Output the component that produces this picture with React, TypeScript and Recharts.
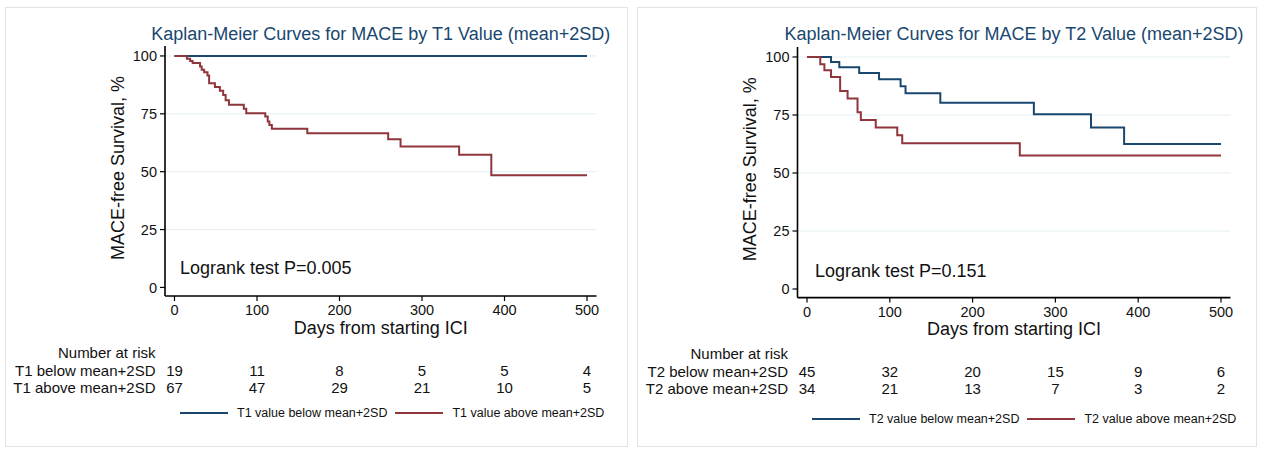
import React from "react";
import { LineChart, Line, XAxis, YAxis, CartesianGrid, Legend } from "recharts";

const FONT = "'Liberation Sans', Arial, Helvetica, sans-serif";
const BLUE = "#1a476f";
const RED = "#90353b";
const INK = "#111";

const dayTicks = [0, 100, 200, 300, 400, 500];
const survTicks = [0, 25, 50, 75, 100];

// T1 panel: Kaplan-Meier steps (day, % MACE-free)
const t1BelowDays = [0, 500];
const t1BelowSurv = [100, 100];
const t1AboveDays = [0, 15, 19, 22, 31, 33, 36, 40, 42, 49, 55, 59, 62, 66, 84, 87, 110, 113, 115, 118, 161, 259, 274, 345, 384, 500];
const t1AboveSurv = [100, 98.8, 97.8, 97.0, 95.4, 94.0, 93.0, 91.6, 88.2, 86.6, 85.0, 83.1, 80.9, 78.9, 77.2, 75.3, 73.8, 71.7, 70.2, 68.5, 66.6, 64.0, 60.9, 57.3, 48.5, 48.5];
const t1RiskBelow = [19, 11, 8, 5, 5, 4];
const t1RiskAbove = [67, 47, 29, 21, 10, 5];

// T2 panel
const t2BelowDays = [0, 29, 39, 63, 87, 113, 119, 161, 274, 343, 383, 500];
const t2BelowSurv = [100, 97.8, 95.6, 93.1, 90.4, 87.4, 84.4, 80.3, 75.3, 69.6, 62.5, 62.5];
const t2AboveDays = [0, 16, 21, 29, 40, 49, 61, 65, 83, 109, 115, 257, 500];
const t2AboveSurv = [100, 96.9, 94.3, 91.4, 85.3, 82.1, 76.2, 72.8, 69.6, 66.3, 62.8, 57.5, 57.5];
const t2RiskBelow = [45, 32, 20, 15, 9, 6];
const t2RiskAbove = [34, 21, 13, 7, 3, 2];

const toSteps = (days: number[], surv: number[]) => days.map((d, i) => ({ d, s: surv[i] }));

type Step = { d: number; s: number };

type PanelProps = {
  left: number;
  top: number;
  width: number;
  height: number;
  axisW: number;
  marginRight: number;
  marginTop: number;
  plotH: number;
  tag: string;
  logrank: string;
  logrankLeft: number;
  logrankTop: number;
  legendTop: number;
  below: Step[];
  above: Step[];
  riskBelow: number[];
  riskAbove: number[];
};

// keep "below" first, as in the original legend
const renderLegend = (props: any) => {
  const items = [...(props.payload || [])].sort(
    (a: any, b: any) => (String(a.value).includes("below") ? 0 : 1) - (String(b.value).includes("below") ? 0 : 1)
  );
  return (
    <div style={{ display: "flex", alignItems: "center", fontFamily: FONT, fontSize: 12.5, color: INK, whiteSpace: "nowrap" }}>
      {items.map((e: any) => (
        <div key={e.value} style={{ display: "flex", alignItems: "center", marginRight: 8 }}>
          <div style={{ width: 48, height: 2, background: e.color, marginRight: 9 }} />
          <span>{e.value}</span>
        </div>
      ))}
    </div>
  );
};

function KMPanel(p: PanelProps) {
  const axisH = p.height - p.marginTop - p.plotH;
  const plotCenter = (p.axisW + (p.width - p.marginRight)) / 2;

  // x tick label plus the number-at-risk rows under it
  const riskTick = (props: any) => {
    const { x, y, payload } = props;
    const i = dayTicks.indexOf(payload.value);
    return (
      <g fontFamily={FONT} fill={INK}>
        <text x={x} y={y + 12} textAnchor="middle" fontSize={14.5}>{payload.value}</text>
        <text x={x} y={y + 72.5} textAnchor="middle" fontSize={15}>{p.riskBelow[i]}</text>
        <text x={x} y={y + 89.5} textAnchor="middle" fontSize={15}>{p.riskAbove[i]}</text>
        {i === 0 && (
          <>
            <text x={x - 19} y={y + 54.5} textAnchor="end" fontSize={15}>Number at risk</text>
            <text x={x - 19} y={y + 72.5} textAnchor="end" fontSize={15}>{`${p.tag} below mean+2SD`}</text>
            <text x={x - 19} y={y + 89.5} textAnchor="end" fontSize={15}>{`${p.tag} above mean+2SD`}</text>
          </>
        )}
      </g>
    );
  };

  return (
    <>
      <div
        style={{
          position: "absolute",
          left: p.left,
          top: p.top,
          width: p.width,
          height: p.height,
          border: "1px solid #e3e3e3",
          boxSizing: "border-box",
          background: "#fff",
        }}
      />
      <div style={{ position: "absolute", left: p.left, top: p.top, fontFamily: FONT }}>
        <LineChart width={p.width} height={p.height} margin={{ top: p.marginTop, right: p.marginRight, bottom: 0, left: 0 }}>
          <CartesianGrid vertical={false} stroke="#e4eef2" horizontalValues={[25, 50, 75, 100]} />
          <XAxis
            dataKey="d"
            type="number"
            domain={[-11.5, 511.5]}
            ticks={dayTicks}
            interval={0}
            height={axisH}
            axisLine={{ stroke: "#000", strokeWidth: 1.6 }}
            tickLine={{ stroke: "#000", strokeWidth: 1.2 }}
            tickSize={5}
            tickMargin={2}
            tick={riskTick}
            label={(lp: any) => {
              const vb = lp.viewBox || {};
              return (
                <text x={vb.x + vb.width / 2} y={vb.y + 37.5} textAnchor="middle" fontSize={18} fontFamily={FONT} fill={INK}>
                  Days from starting ICI
                </text>
              );
            }}
          />
          <YAxis
            type="number"
            domain={[-3.7, 104.3]}
            ticks={survTicks}
            interval={0}
            width={p.axisW}
            axisLine={{ stroke: "#000", strokeWidth: 1.6 }}
            tickLine={{ stroke: "#000", strokeWidth: 1.2 }}
            tickSize={5}
            tickMargin={3}
            tick={{ fill: INK, fontSize: 14.5, fontFamily: FONT }}
            label={(lp: any) => {
              const vb = lp.viewBox || {};
              const cx = vb.x + 113;
              const cy = vb.y + vb.height / 2 - 3;
              return (
                <text x={cx} y={cy} transform={`rotate(-90 ${cx} ${cy})`} textAnchor="middle" dominantBaseline="central" fontSize={18} fontFamily={FONT} fill={INK}>
                  MACE-free Survival, %
                </text>
              );
            }}
          />
          <Line
            data={p.below}
            dataKey="s"
            name={`${p.tag} value below mean+2SD`}
            type="stepAfter"
            stroke={BLUE}
            strokeWidth={2}
            dot={false}
            isAnimationActive={false}
          />
          <Line
            data={p.above}
            dataKey="s"
            name={`${p.tag} value above mean+2SD`}
            type="stepAfter"
            stroke={RED}
            strokeWidth={2}
            dot={false}
            isAnimationActive={false}
          />
          <Legend
            layout="horizontal"
            verticalAlign="middle"
            align="center"
            wrapperStyle={{ left: 175, top: p.legendTop, width: 460, height: 18 }}
            content={renderLegend}
          />
        </LineChart>
      </div>
      <div
        style={{
          position: "absolute",
          left: p.left + plotCenter - 300,
          top: p.top + 16,
          width: 600,
          textAlign: "center",
          fontFamily: FONT,
          fontSize: 18,
          lineHeight: "22px",
          color: BLUE,
          whiteSpace: "nowrap",
        }}
      >
        {`Kaplan-Meier Curves for MACE by ${p.tag} Value (mean+2SD)`}
      </div>
      <div
        style={{
          position: "absolute",
          left: p.left + p.logrankLeft,
          top: p.top + p.logrankTop,
          fontFamily: FONT,
          fontSize: 18,
          lineHeight: "22px",
          color: INK,
          whiteSpace: "nowrap",
        }}
      >
        {p.logrank}
      </div>
    </>
  );
}

export default function App() {
  return (
    <div style={{ position: "absolute", left: 0, top: 0, width: 1262, height: 451, background: "#fff", overflow: "hidden" }}>
      <KMPanel
        left={5}
        top={7}
        width={623}
        height={440}
        axisW={160}
        marginRight={31.5}
        marginTop={39}
        plotH={250}
        tag="T1"
        logrank="Logrank test P=0.005"
        logrankLeft={175}
        logrankTop={250}
        legendTop={399}
        below={toSteps(t1BelowDays, t1BelowSurv)}
        above={toSteps(t1AboveDays, t1AboveSurv)}
        riskBelow={t1RiskBelow}
        riskAbove={t1RiskAbove}
      />
      <KMPanel
        left={637}
        top={7}
        width={620}
        height={440}
        axisW={160.5}
        marginRight={26.5}
        marginTop={40}
        plotH={250.6}
        tag="T2"
        logrank="Logrank test P=0.151"
        logrankLeft={178}
        logrankTop={253}
        legendTop={405}
        below={toSteps(t2BelowDays, t2BelowSurv)}
        above={toSteps(t2AboveDays, t2AboveSurv)}
        riskBelow={t2RiskBelow}
        riskAbove={t2RiskAbove}
      />
    </div>
  );
}
